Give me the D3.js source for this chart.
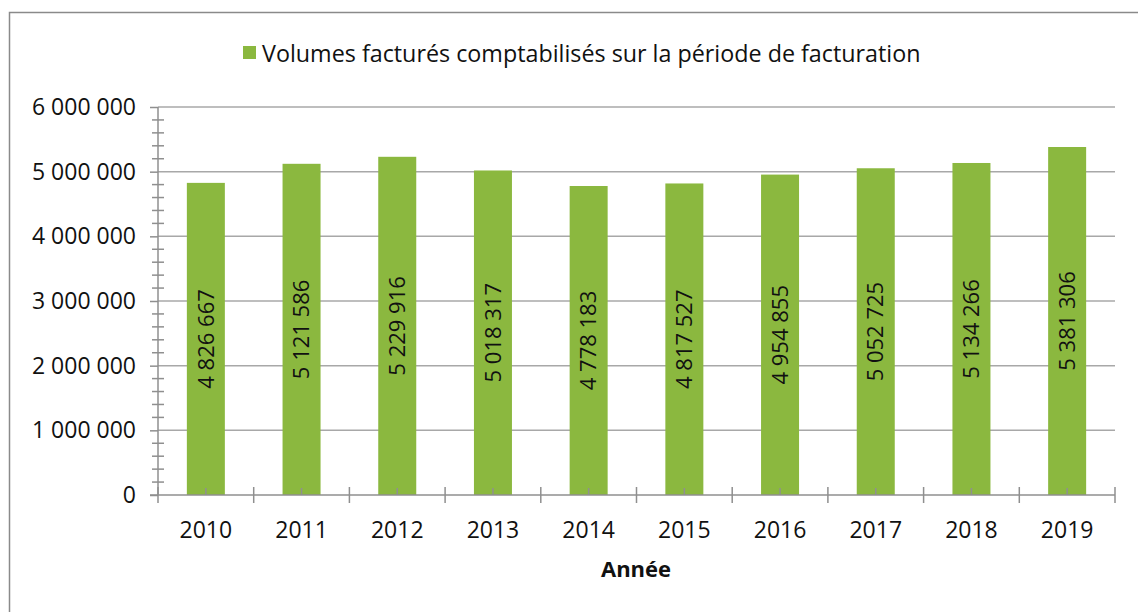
<!DOCTYPE html>
<html>
<head>
<meta charset="utf-8">
<script src="https://cdn.jsdelivr.net/npm/d3@7"></script>
<style>
  body { margin: 0; background: #fff; }
  svg { display: block; font-family: "Open Sans", sans-serif; }
</style>
</head>
<body>
<svg id="chart" width="1138" height="612"></svg>
<script>
// data
const years = ["2010","2011","2012","2013","2014","2015","2016","2017","2018","2019"];
const volumes = [4826667, 5121586, 5229916, 5018317, 4778183, 4817527, 4954855, 5052725, 5134266, 5381306];
const yTicks = [0, 1000000, 2000000, 3000000, 4000000, 5000000, 6000000];
const legendLabel = "Volumes facturés comptabilisés sur la période de facturation";
const xTitle = "Année";

const green = "#8bb83f";
const gridColor = "#a8a8a8";
const axisColor = "#8f8f8f";

const svg = d3.select("#chart");

// outer frame (right and bottom edges fall outside the picture)
svg.append("rect")
    .attr("x", 9.5).attr("y", 12.5)
    .attr("width", 1200).attr("height", 700)
    .attr("fill", "none")
    .attr("stroke", "#8a8a8a")
    .attr("stroke-width", 1.5);

const plotL = 158, plotR = 1115, plotT = 107, plotB = 495;

const xBand = d3.scaleBand().domain(years).range([plotL, plotR]);

const y = d3.scaleLinear()
    .domain([0, 6000000])
    .range([plotB, plotT]);

const fmt = v => d3.format(",")(v).replace(/,/g, " ");
const cx = d => xBand(d) + xBand.bandwidth() / 2;

// gridlines
svg.append("g")
    .selectAll("line")
    .data(yTicks.slice(1))
    .join("line")
    .attr("x1", plotL).attr("x2", plotR)
    .attr("y1", d => y(d)).attr("y2", d => y(d))
    .attr("stroke", gridColor)
    .attr("stroke-width", 1.5);

// bars
svg.append("g")
    .selectAll("rect")
    .data(volumes)
    .join("rect")
    .attr("x", (d, i) => cx(years[i]) - 19)
    .attr("width", 38)
    .attr("y", d => y(d))
    .attr("height", d => y(0) - y(d))
    .attr("fill", green);

// value labels, rotated, centred in the bar
svg.append("g")
    .selectAll("text")
    .data(volumes)
    .join("text")
    .attr("transform", (d, i) => `translate(${cx(years[i])},${(y(d) + y(0)) / 2}) rotate(-90)`)
    .attr("text-anchor", "middle")
    .attr("dy", "0.35em")
    .attr("font-size", 22)
    .attr("fill", "#111")
    .text(d => fmt(d));

// y axis
const yAxis = d3.axisLeft(y)
    .tickValues(yTicks)
    .tickSize(8)
    .tickPadding(14)
    .tickFormat(fmt);

const gy = svg.append("g")
    .attr("transform", `translate(${plotL},0)`)
    .call(yAxis);
gy.select(".domain").attr("stroke", axisColor).attr("stroke-width", 1.5).attr("d", `M0,${plotT}V${plotB}`);
gy.selectAll(".tick line").attr("stroke", axisColor).attr("stroke-width", 1.5);
gy.selectAll(".tick text").attr("font-size", 23).attr("fill", "#111").attr("font-family", "Open Sans");

// y minor ticks (crossing)
const minor = d3.range(0, 6000000, 200000).filter(v => v % 1000000 !== 0);
svg.append("g")
    .selectAll("line")
    .data(minor)
    .join("line")
    .attr("x1", plotL - 6).attr("x2", plotL + 6)
    .attr("y1", d => y(d)).attr("y2", d => y(d))
    .attr("stroke", axisColor)
    .attr("stroke-width", 1.5);

// x axis line
svg.append("line")
    .attr("x1", plotL - 8).attr("x2", plotR)
    .attr("y1", plotB).attr("y2", plotB)
    .attr("stroke", axisColor).attr("stroke-width", 1.5);

// x major ticks at band boundaries (crossing)
const bounds = years.map(d => xBand(d)).concat([plotR]);
svg.append("g")
    .selectAll("line")
    .data(bounds)
    .join("line")
    .attr("x1", d => d).attr("x2", d => d)
    .attr("y1", plotB - 8).attr("y2", plotB + 8)
    .attr("stroke", axisColor).attr("stroke-width", 1.5);

// x minor ticks at centres (inside)
svg.append("g")
    .selectAll("line")
    .data(years)
    .join("line")
    .attr("x1", cx).attr("x2", cx)
    .attr("y1", plotB - 7).attr("y2", plotB)
    .attr("stroke", axisColor).attr("stroke-width", 1.5);

// x labels
svg.append("g")
    .selectAll("text")
    .data(years)
    .join("text")
    .attr("x", cx)
    .attr("y", 538)
    .attr("text-anchor", "middle")
    .attr("font-size", 23)
    .attr("fill", "#111")
    .text(d => d);

// x title
svg.append("text")
    .attr("x", 636).attr("y", 577)
    .attr("text-anchor", "middle")
    .attr("font-size", 22)
    .attr("font-weight", "bold")
    .attr("fill", "#111")
    .text(xTitle);

// legend
const lg = svg.append("g");
lg.append("rect")
    .attr("x", 243).attr("y", 46)
    .attr("width", 13).attr("height", 13)
    .attr("fill", green);
lg.append("text")
    .attr("x", 262).attr("y", 62)
    .attr("font-size", 23.3)
    .attr("fill", "#111")
    .text(legendLabel);
</script>
</body>
</html>
